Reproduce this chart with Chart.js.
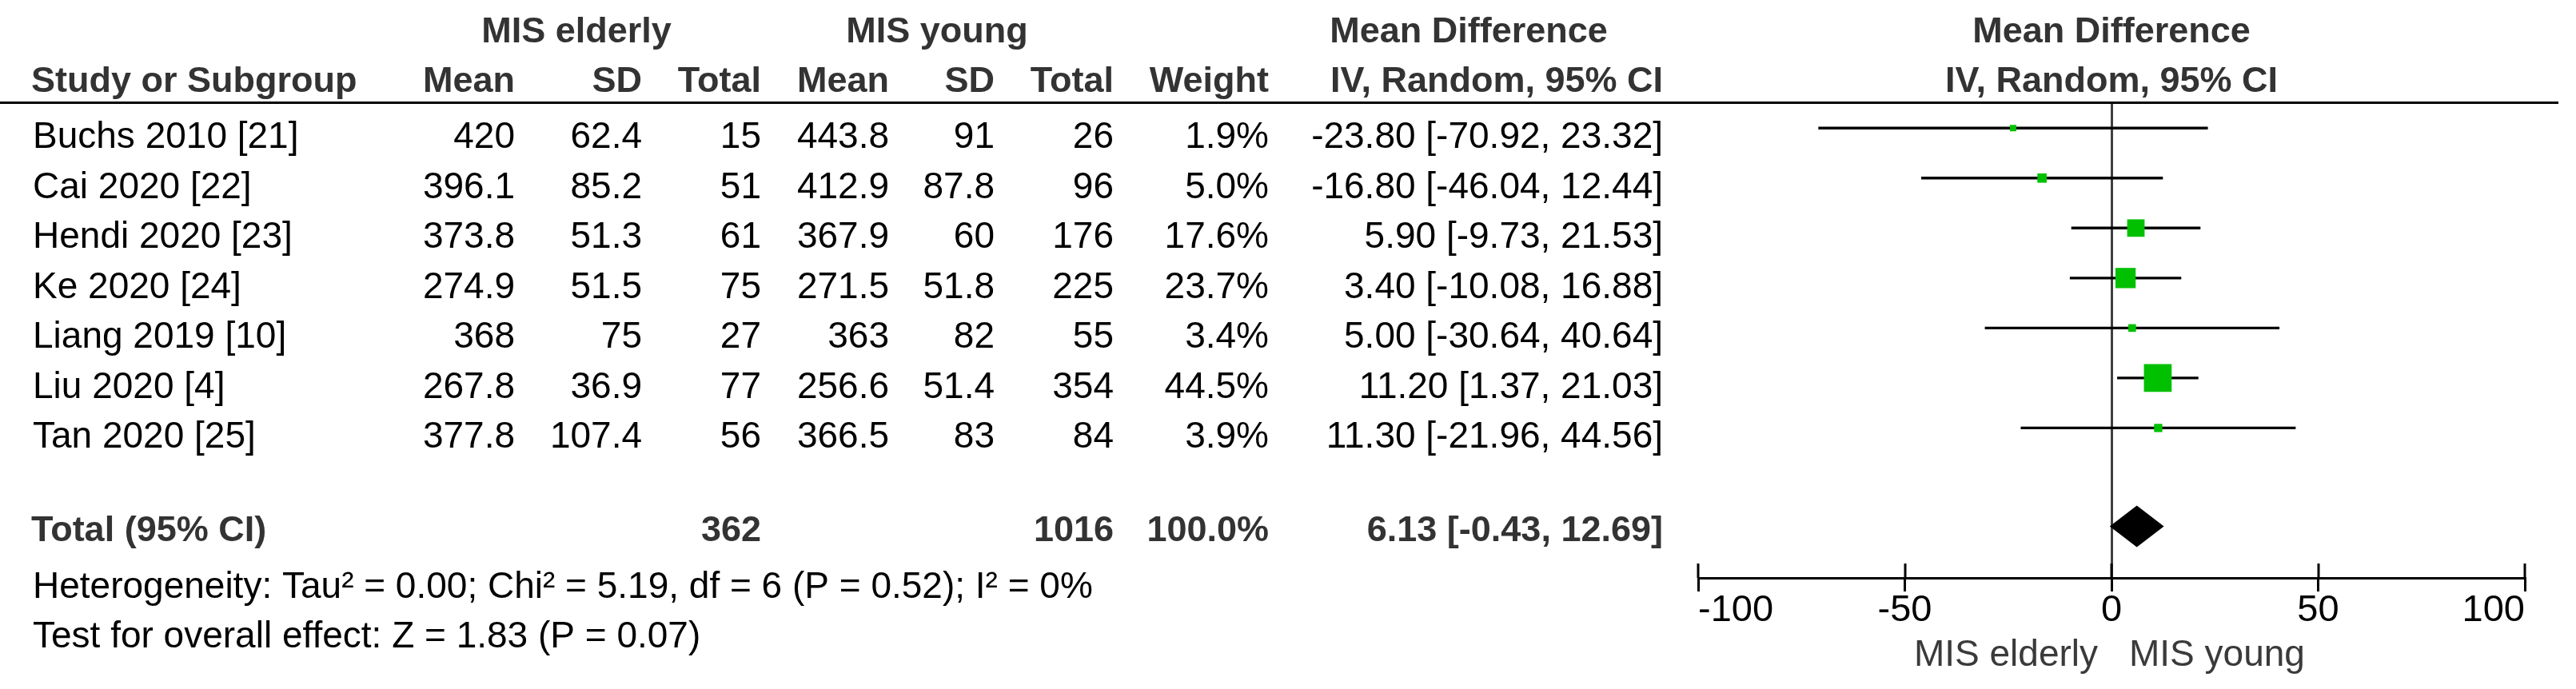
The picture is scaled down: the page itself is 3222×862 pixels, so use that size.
<!DOCTYPE html>
<html>
<head>
<meta charset="utf-8">
<script src="https://cdn.jsdelivr.net/npm/chart.js@4.4.1/dist/chart.umd.min.js"></script>
<style>
html,body{margin:0;padding:0;background:#fff;overflow:hidden}
#wrap{position:relative;width:3222px;height:862px}
</style>
</head>
<body>
<div id="wrap"><canvas id="c"></canvas></div>
<script>
// ---- data ----
const studies = ["Buchs 2010 [21]", "Cai 2020 [22]", "Hendi 2020 [23]", "Ke 2020 [24]", "Liang 2019 [10]", "Liu 2020 [4]", "Tan 2020 [25]"];
const elderlyMean = [420, 396.1, 373.8, 274.9, 368, 267.8, 377.8];
const elderlySD = [62.4, 85.2, 51.3, 51.5, 75, 36.9, 107.4];
const elderlyTotal = [15, 51, 61, 75, 27, 77, 56];
const youngMean = [443.8, 412.9, 367.9, 271.5, 363, 256.6, 366.5];
const youngSD = [91, 87.8, 60, 51.8, 82, 51.4, 83];
const youngTotal = [26, 96, 176, 225, 55, 354, 84];
const weights = [1.9, 5.0, 17.6, 23.7, 3.4, 44.5, 3.9];
const meanDiff = [-23.80, -16.80, 5.90, 3.40, 5.00, 11.20, 11.30];
const ciLow = [-70.92, -46.04, -9.73, -10.08, -30.64, 1.37, -21.96];
const ciHigh = [23.32, 12.44, 21.53, 16.88, 40.64, 21.03, 44.56];
const totalElderly = 362;
const totalYoung = 1016;
const totalWeight = 100.0;
const totalMD = 6.13;
const totalLow = -0.43;
const totalHigh = 12.69;
const xTicks = [-100, -50, 0, 50, 100];
const heterogeneityText = "Heterogeneity: Tau\u00B2 = 0.00; Chi\u00B2 = 5.19, df = 6 (P = 0.52); I\u00B2 = 0%";
const overallText = "Test for overall effect: Z = 1.83 (P = 0.07)";
const favoursLeft = "MIS elderly";
const favoursRight = "MIS young";

// ---- style ----
const FONT = '"Liberation Sans", Arial, Helvetica, sans-serif';
const GREEN = '#00C000';
const TOTAL_ROW = 8;
const col = {name: 41, eMean: 644, eSD: 803, eTot: 952, yMean: 1112, ySD: 1244, yTot: 1393, weight: 1587, ci: 2080};

function squareSide(w) { return Math.max(8, 5.2 * Math.sqrt(w)); }
function fmtCI(m, l, h) { return m.toFixed(2) + ' [' + l.toFixed(2) + ', ' + h.toFixed(2) + ']'; }

const ciDatasets = studies.map((s, i) => ({
  type: 'line',
  label: s,
  data: [{x: ciLow[i], y: i}, {x: ciHigh[i], y: i}],
  borderColor: '#000',
  borderWidth: 3.4,
  pointRadius: 0,
  fill: false,
  order: 2
}));

const squareDataset = {
  type: 'scatter',
  label: 'Mean difference',
  data: studies.map((s, i) => ({x: meanDiff[i], y: i})),
  pointStyle: 'rect',
  backgroundColor: GREEN,
  borderWidth: 0,
  pointBorderWidth: 0,
  pointRadius: ctx => squareSide(weights[ctx.dataIndex]) / Math.SQRT2,
  order: 0
};

const tablePlugin = {
  id: 'forestTable',
  afterDraw(chart) {
    const ctx = chart.ctx, ys = chart.scales.y, xs = chart.scales.x, area = chart.chartArea;
    ctx.save();
    // header rule
    ctx.fillStyle = '#000';
    ctx.fillRect(0, area.top - 2, 3200, 3);
    // upper halves of axis ticks
    xs.ticks.forEach(t => {
      const px = Math.round(xs.getPixelForValue(t.value));
      ctx.fillRect(px - 1.5, area.bottom - 18, 3, 18);
    });
    // summary diamond
    const cy = ys.getPixelForValue(TOTAL_ROW) - 2;
    ctx.beginPath();
    ctx.moveTo(xs.getPixelForValue(totalLow), cy);
    ctx.lineTo(xs.getPixelForValue(totalMD), cy - 26);
    ctx.lineTo(xs.getPixelForValue(totalHigh), cy);
    ctx.lineTo(xs.getPixelForValue(totalMD), cy + 26);
    ctx.closePath();
    ctx.fillStyle = '#000';
    ctx.fill();

    function txt(s, x, y, align, bold, color, size) {
      ctx.font = (bold ? 'bold ' : '') + (size || 46) + 'px ' + FONT;
      ctx.fillStyle = color || '#000';
      ctx.textAlign = align;
      ctx.textBaseline = 'alphabetic';
      ctx.fillText(s, x, y);
    }
    const H = '#333';
    const zeroX = xs.getPixelForValue(0);
    // header row 1
    txt('MIS elderly', 721, 53, 'center', true, H, 45);
    txt('MIS young', 1172, 53, 'center', true, H, 45);
    txt('Mean Difference', 1837, 53, 'center', true, H, 45);
    txt('Mean Difference', zeroX, 53, 'center', true, H, 45);
    // header row 2
    txt('Study or Subgroup', 39, 115, 'left', true, H, 45);
    txt('Mean', col.eMean, 115, 'right', true, H, 45);
    txt('SD', col.eSD, 115, 'right', true, H, 45);
    txt('Total', col.eTot, 115, 'right', true, H, 45);
    txt('Mean', col.yMean, 115, 'right', true, H, 45);
    txt('SD', col.ySD, 115, 'right', true, H, 45);
    txt('Total', col.yTot, 115, 'right', true, H, 45);
    txt('Weight', col.weight, 115, 'right', true, H, 45);
    txt('IV, Random, 95% CI', col.ci, 115, 'right', true, H, 45);
    txt('IV, Random, 95% CI', zeroX, 115, 'center', true, H, 45);
    // study rows
    studies.forEach((s, i) => {
      const y = ys.getPixelForValue(i) + 25;
      txt(s, col.name, y, 'left');
      txt(String(elderlyMean[i]), col.eMean, y, 'right');
      txt(String(elderlySD[i]), col.eSD, y, 'right');
      txt(String(elderlyTotal[i]), col.eTot, y, 'right');
      txt(String(youngMean[i]), col.yMean, y, 'right');
      txt(String(youngSD[i]), col.ySD, y, 'right');
      txt(String(youngTotal[i]), col.yTot, y, 'right');
      txt(weights[i].toFixed(1) + '%', col.weight, y, 'right');
      txt(fmtCI(meanDiff[i], ciLow[i], ciHigh[i]), col.ci, y, 'right');
    });
    // total row
    const ty = ys.getPixelForValue(TOTAL_ROW) + 17;
    txt('Total (95% CI)', 39, ty, 'left', true, H, 45);
    txt(String(totalElderly), col.eTot, ty, 'right', true, H, 45);
    txt(String(totalYoung), col.yTot, ty, 'right', true, H, 45);
    txt(totalWeight.toFixed(1) + '%', col.weight, ty, 'right', true, H, 45);
    txt(fmtCI(totalMD, totalLow, totalHigh), col.ci, ty, 'right', true, H, 45);
    // footnotes
    txt(heterogeneityText, col.name, 748, 'left');
    txt(overallText, col.name, 810, 'left');
    // favours labels
    txt(favoursLeft, zeroX - 17, 833, 'right', false, '#3a3a3a');
    txt(favoursRight, zeroX + 22, 833, 'left', false, '#3a3a3a');
    ctx.restore();
  }
};

new Chart(document.getElementById('c'), {
  data: {datasets: [squareDataset].concat(ciDatasets)},
  options: {
    responsive: true,
    maintainAspectRatio: false,
    animation: false,
    events: [],
    layout: {padding: {left: 2124, right: 64, top: 129, bottom: 0}},
    plugins: {legend: {display: false}, tooltip: {enabled: false}},
    scales: {
      x: {
        type: 'linear',
        position: 'bottom',
        min: -100,
        max: 100,
        afterFit(s) { s.height = 139; },
        afterBuildTicks(s) { s.ticks = xTicks.map(v => ({value: v})); },
        ticks: {
          align: 'inner',
          color: '#000',
          font: {family: FONT, size: 47},
          padding: -4,
          maxRotation: 0,
          autoSkip: false
        },
        grid: {
          drawOnChartArea: true,
          color: c => (c.tick && c.tick.value === 0) ? '#404040' : 'rgba(0,0,0,0)',
          lineWidth: 3,
          tickColor: '#000',
          tickWidth: 3,
          tickLength: 17
        },
        border: {display: true, color: '#000', width: 3}
      },
      y: {
        type: 'linear',
        min: -0.5,
        max: 9,
        reverse: true,
        display: false
      }
    }
  },
  plugins: [tablePlugin]
});
</script>
</body>
</html>
